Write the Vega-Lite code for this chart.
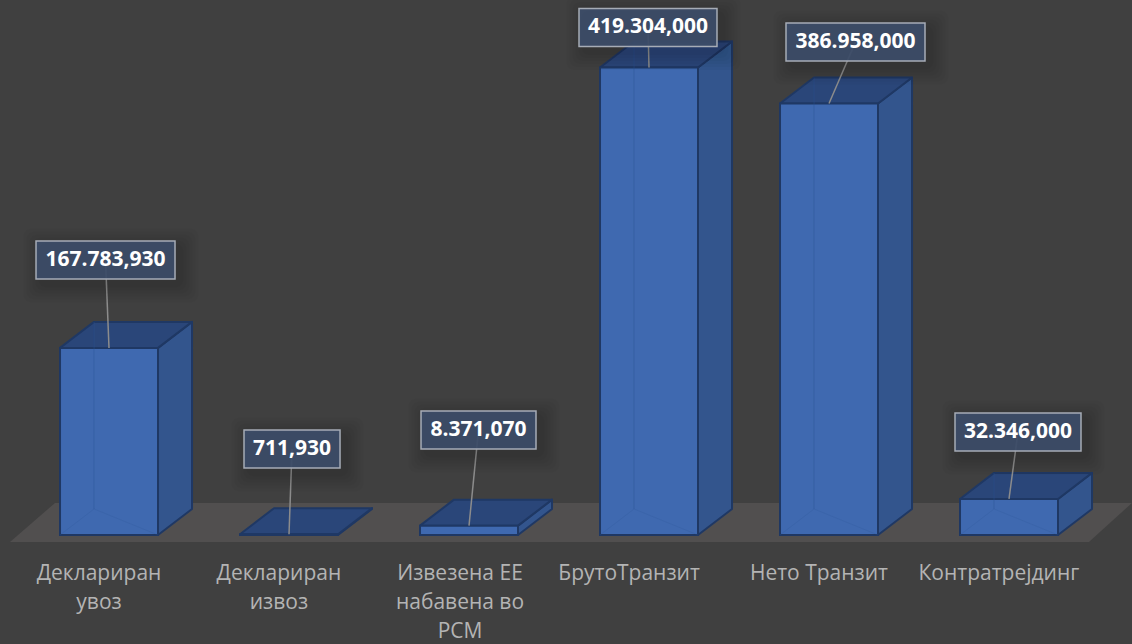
{
"$schema":"https://vega.github.io/schema/vega-lite/v6.json",
"width":1132,"height":644,"padding":0,
"autosize":{"type":"none"},
"background":"#404040",
"config":{"view":{"stroke":null},"axis":{"disable":true}},
"data":{"values":[
{"category":"Деклариран\nувоз","value":167783.93,"label":"167.783,930"},
{"category":"Деклариран\nизвоз","value":711.93,"label":"711,930"},
{"category":"Извезена ЕЕ\nнабавена во\nРСМ","value":8371.07,"label":"8.371,070"},
{"category":"БрутоТранзит","value":419304,"label":"419.304,000"},
{"category":"Нето Транзит","value":386958,"label":"386.958,000"},
{"category":"Контратрејдинг","value":32346,"label":"32.346,000"}
]},
"transform":[
{"window":[{"op":"row_number","as":"rn"}]},
{"calculate":"datum.rn-1","as":"idx"},
{"calculate":"[-0.0194,1.0167,2.0528,2.9944,4.1472,5.05][datum.idx]","as":"boxX"},
{"calculate":"[246640,77130,94170,455160,442150,92380][datum.idx]","as":"boxY"},
{"calculate":"[0.3861,0.2667,0.3194,0.3833,0.3861,0.35][datum.idx]","as":"boxW"},
{"calculate":"[-0.0556,0.944,1.95,2.889,3.944,4.944][datum.idx]","as":"labelX"},
{"calculate":"datum.idx-0.2722","as":"x0"},
{"calculate":"datum.idx+0.2722","as":"x1"},
{"calculate":"datum.x0+0.189","as":"x0b"},
{"calculate":"datum.x1+0.189","as":"x1b"},
{"calculate":"datum.value+23340","as":"vb"},
{"calculate":"0","as":"zero"},
{"calculate":"-25400","as":"labelY"},
{"calculate":"[0,1,2,3,4]","as":"corner"}
],
"layer":[
{"transform":[{"filter":"datum.idx==0"},{"flatten":["corner"]},
 {"calculate":"[-0.55,5.444,5.683,-0.3,-0.55][datum.corner]","as":"px"},
 {"calculate":"[-6280,-6280,28730,28730,-6280][datum.corner]","as":"py"}],
 "mark":{"type":"line","fill":"#514f4f","stroke":"#514f4f","strokeWidth":0},
 "encoding":{
  "x":{"field":"px","type":"quantitative","scale":{"domain":[-0.6056,5.6833],"nice":false,"zero":false}},
  "y":{"field":"py","type":"quantitative","scale":{"domain":[-97760,479800],"nice":false,"zero":false}},
  "order":{"field":"corner","type":"quantitative"}}},
{"transform":[{"flatten":["corner"]},
 {"calculate":"[datum.x1,datum.x1,datum.x1b,datum.x1b,datum.x1][datum.corner]","as":"px"},
 {"calculate":"[0,datum.value,datum.vb,23340,0][datum.corner]","as":"py"}],
 "mark":{"type":"line","fill":"#33558d","stroke":"#1f3864","strokeWidth":2,"strokeJoin":"round"},
 "encoding":{"x":{"field":"px","type":"quantitative","scale":{"domain":[-0.6056,5.6833],"nice":false,"zero":false}},"y":{"field":"py","type":"quantitative","scale":{"domain":[-97760,479800],"nice":false,"zero":false}},
  "detail":{"field":"idx","type":"nominal"},"order":{"field":"corner","type":"quantitative"}}},
{"transform":[{"flatten":["corner"]},
 {"calculate":"[datum.x0,datum.x1,datum.x1b,datum.x0b,datum.x0][datum.corner]","as":"px"},
 {"calculate":"[datum.value,datum.value,datum.vb,datum.vb,datum.value][datum.corner]","as":"py"}],
 "mark":{"type":"line","fill":"#2a4679","stroke":"#1f3864","strokeWidth":2,"strokeJoin":"round"},
 "encoding":{"x":{"field":"px","type":"quantitative","scale":{"domain":[-0.6056,5.6833],"nice":false,"zero":false}},"y":{"field":"py","type":"quantitative","scale":{"domain":[-97760,479800],"nice":false,"zero":false}},
  "detail":{"field":"idx","type":"nominal"},"order":{"field":"corner","type":"quantitative"}}},
{"mark":{"type":"rect","fill":"#3f69b0","stroke":"#1f3864","strokeWidth":2},
 "encoding":{"x":{"field":"x0","type":"quantitative","scale":{"domain":[-0.6056,5.6833],"nice":false,"zero":false}},"x2":{"field":"x1"},"y":{"field":"zero","type":"quantitative","scale":{"domain":[-97760,479800],"nice":false,"zero":false}},"y2":{"field":"value"}}},
{"transform":[{"flatten":["corner"]},
 {"calculate":"[datum.x0,datum.x0b,datum.x0b,datum.x0b,datum.x1][datum.corner]","as":"px"},
 {"calculate":"[0,23340,datum.vb,23340,0][datum.corner]","as":"py"},
 {"filter":"datum.value>20000"}],
 "mark":{"type":"line","stroke":"#2f5597","strokeWidth":1,"opacity":0.22},
 "encoding":{"x":{"field":"px","type":"quantitative","scale":{"domain":[-0.6056,5.6833],"nice":false,"zero":false}},"y":{"field":"py","type":"quantitative","scale":{"domain":[-97760,479800],"nice":false,"zero":false}},
  "detail":{"field":"idx","type":"nominal"},"order":{"field":"corner","type":"quantitative"}}},
{"mark":{"type":"rule","stroke":"#8c8c8c","strokeWidth":1.5},
 "encoding":{"x":{"field":"boxX","type":"quantitative","scale":{"domain":[-0.6056,5.6833],"nice":false,"zero":false}},"y":{"field":"boxY","type":"quantitative","scale":{"domain":[-97760,479800],"nice":false,"zero":false}},
  "x2":{"field":"idx"},"y2":{"field":"value"}}},
{"transform":[{"calculate":"[18,15,12,9,6,3]","as":"spread"},{"flatten":["spread"]},
 {"calculate":"datum.boxX+0.03-datum.boxW-datum.spread/180","as":"sx0"},
 {"calculate":"datum.boxX+0.03+datum.boxW+datum.spread/180","as":"sx1"},
 {"calculate":"datum.boxY-5000-17059-datum.spread*898","as":"sy0"},
 {"calculate":"datum.boxY-5000+17059+datum.spread*898","as":"sy1"}],
 "mark":{"type":"rect","fill":"#000000","opacity":0.025,"cornerRadius":8},
 "encoding":{"x":{"field":"sx0","type":"quantitative","scale":{"domain":[-0.6056,5.6833],"nice":false,"zero":false}},"x2":{"field":"sx1"},"y":{"field":"sy0","type":"quantitative","scale":{"domain":[-97760,479800],"nice":false,"zero":false}},"y2":{"field":"sy1"}}},
{"transform":[
 {"calculate":"datum.boxX-datum.boxW","as":"bx0"},{"calculate":"datum.boxX+datum.boxW","as":"bx1"},
 {"calculate":"datum.boxY-17059","as":"by0"},{"calculate":"datum.boxY+17059","as":"by1"}],
 "mark":{"type":"rect","fill":"#3c4c68","fillOpacity":0.93,"stroke":"#a6acb6","strokeWidth":1.5},
 "encoding":{"x":{"field":"bx0","type":"quantitative","scale":{"domain":[-0.6056,5.6833],"nice":false,"zero":false}},"x2":{"field":"bx1"},"y":{"field":"by0","type":"quantitative","scale":{"domain":[-97760,479800],"nice":false,"zero":false}},"y2":{"field":"by1"}}},
{"mark":{"type":"text","font":"Open Sans","fontWeight":"bold","fontSize":21,"fill":"#ffffff","align":"center","baseline":"middle"},
 "encoding":{"x":{"field":"boxX","type":"quantitative","scale":{"domain":[-0.6056,5.6833],"nice":false,"zero":false}},"y":{"field":"boxY","type":"quantitative","scale":{"domain":[-97760,479800],"nice":false,"zero":false}},"text":{"field":"label","type":"nominal"}}},
{"mark":{"type":"text","font":"Open Sans","fontSize":21,"fill":"#b4b4b4","align":"center","baseline":"top","lineBreak":"\n","lineHeight":29},
 "encoding":{"x":{"field":"labelX","type":"quantitative","scale":{"domain":[-0.6056,5.6833],"nice":false,"zero":false}},"y":{"field":"labelY","type":"quantitative","scale":{"domain":[-97760,479800],"nice":false,"zero":false}},"text":{"field":"category","type":"nominal"}}}
]
}
